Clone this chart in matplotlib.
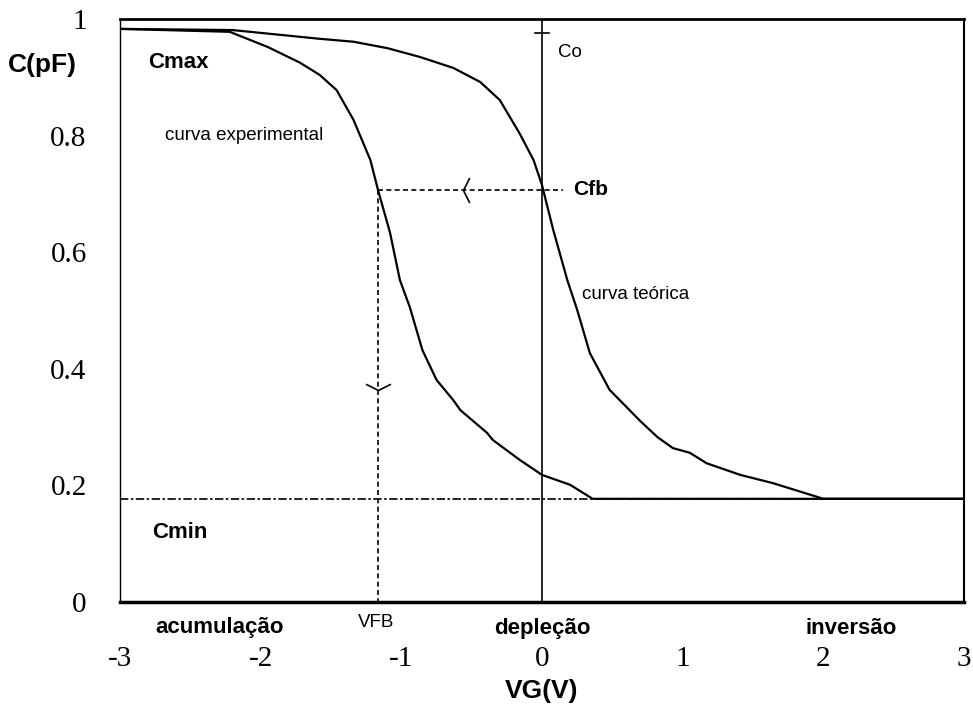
import matplotlib
matplotlib.use("Agg")
import matplotlib.pyplot as plt
from matplotlib.path import Path

# curves (V, C)
v_teo = [-3.0, -2.2, -1.58, -1.34, -1.10, -0.87, -0.63, -0.44, -0.30, -0.16, -0.06,
         0.0, 0.08, 0.18, 0.25, 0.34, 0.48, 0.70, 0.82, 0.93, 1.05, 1.17, 1.41,
         1.64, 2.0, 3.0]
c_teo = [0.983, 0.981, 0.966, 0.961, 0.950, 0.935, 0.916, 0.892, 0.861, 0.804, 0.758,
         0.715, 0.638, 0.552, 0.501, 0.427, 0.364, 0.310, 0.283, 0.264, 0.256, 0.238,
         0.218, 0.204, 0.177, 0.177]

v_exp = [-3.0, -2.22, -1.95, -1.72, -1.58, -1.46, -1.34, -1.22, -1.166, -1.08, -1.01,
         -0.94, -0.85, -0.75, -0.63, -0.58, -0.39, -0.35, -0.16, 0.0, 0.2, 0.36, 3.0]
c_exp = [0.983, 0.978, 0.952, 0.925, 0.904, 0.878, 0.827, 0.758, 0.707, 0.633, 0.552,
         0.506, 0.432, 0.381, 0.346, 0.329, 0.290, 0.278, 0.244, 0.218, 0.201, 0.177, 0.177]

c_min = 0.177
c_fb = 0.707
c_o = 0.976
v_fb = -1.166

xticks = [-3, -2, -1, 0, 1, 2, 3]
xlabels = ["-3", "-2", "-1", "0", "1", "2", "3"]
yticks = [0, 0.2, 0.4, 0.6, 0.8, 1]
ylabels = ["0", "0.2", "0.4", "0.6", "0.8", "1"]

fig = plt.figure(figsize=(9.73, 7.11), dpi=100)
ax = fig.add_axes([0.1233, 0.1533, 0.8675, 0.82])

ax.plot(v_teo, c_teo, color="black", lw=1.6)
ax.plot(v_exp, c_exp, color="black", lw=1.6)

ax.axhline(c_min, color="black", lw=1.2, linestyle=(0, (5, 1.5, 1.5, 1.5)))
ax.axvline(0, color="black", lw=1.2)
ax.plot([-0.05, 0.05], [c_o, c_o], color="black", lw=1.2)

# Cfb / VFB construction
ax.plot([v_fb, 0.15], [c_fb, c_fb], color="black", lw=1.2, linestyle=(0, (3, 2)))
ax.plot([v_fb, v_fb], [c_fb, 0], color="black", lw=1.2, linestyle=(0, (3, 2)))
left_chev = Path([(1, 2), (0, 0), (1, -2)], [Path.MOVETO, Path.LINETO, Path.LINETO])
down_chev = Path([(-2, 1), (0, 0), (2, 1)], [Path.MOVETO, Path.LINETO, Path.LINETO])
ax.plot([-0.56], [c_fb], marker=left_chev, markersize=18, mfc="none", mec="black", mew=1.2)
ax.plot([v_fb], [0.364], marker=down_chev, markersize=18, mfc="none", mec="black", mew=1.2)

ax.set_xlim(-3, 3)
ax.set_ylim(0, 1)
ax.set_xticks(xticks)
ax.set_xticklabels(xlabels)
ax.set_yticks(yticks)
ax.set_yticklabels(ylabels)
ax.tick_params(length=0, labelsize=21)
ax.tick_params(axis="x", pad=32)
ax.tick_params(axis="y", pad=24)
for lab in ax.get_xticklabels() + ax.get_yticklabels():
    lab.set_family("Liberation Serif")

ax.spines["top"].set_linewidth(2)
ax.spines["bottom"].set_linewidth(2.5)
ax.spines["left"].set_linewidth(1)
ax.spines["right"].set_linewidth(1.5)

sans = "Liberation Sans"
ax.text(-2.80, 0.926, "Cmax", fontsize=16, fontweight="bold", family=sans, va="center")
ax.text(-2.77, 0.120, "Cmin", fontsize=16, fontweight="bold", family=sans, va="center")
ax.text(-2.68, 0.801, "curva experimental", fontsize=13.5, family=sans, va="center")
ax.text(0.284, 0.527, "curva teórica", fontsize=13.5, family=sans, va="center")
ax.text(0.114, 0.943, "Co", fontsize=13.5, family=sans, va="center")
ax.text(0.22, c_fb, "Cfb", fontsize=15, fontweight="bold", family=sans, va="center")

ax.text(-2.29, -0.043, "acumulação", fontsize=16, fontweight="bold", family=sans,
        ha="center", va="center", clip_on=False)
ax.text(v_fb - 0.01, -0.036, "VFB", fontsize=13.5, family=sans,
        ha="center", va="center", clip_on=False)
ax.text(0.0, -0.045, "depleção", fontsize=16, fontweight="bold", family=sans,
        ha="center", va="center", clip_on=False)
ax.text(2.2, -0.045, "inversão", fontsize=16, fontweight="bold", family=sans,
        ha="center", va="center", clip_on=False)
ax.text(0.0, -0.153, "VG(V)", fontsize=19, fontweight="bold", family=sans,
        ha="center", va="center", clip_on=False)
ax.text(-3.554, 0.921, "C(pF)", fontsize=19, fontweight="bold", family=sans,
        ha="center", va="center", clip_on=False)

fig.savefig("out.png", dpi=100)
